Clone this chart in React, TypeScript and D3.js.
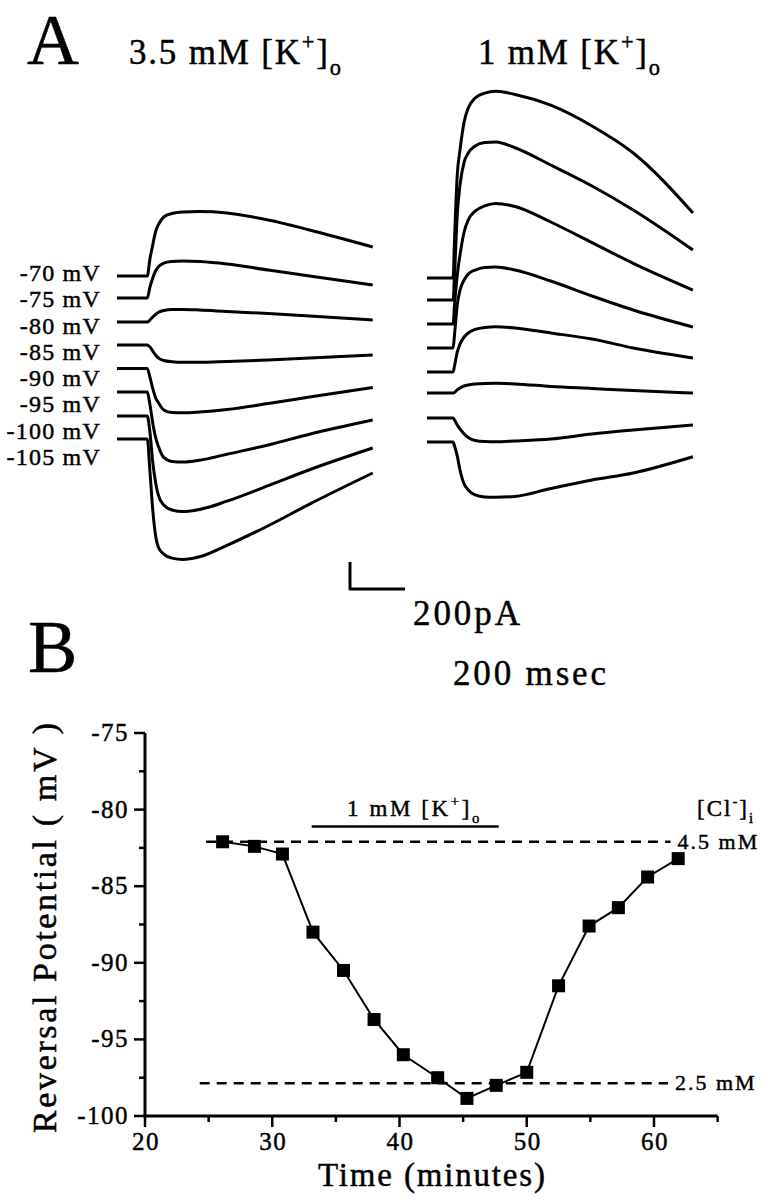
import React from "react";
import * as d3 from "d3";

// ---------- Panel A data (time in ms, current in pA) ----------
const leftTimes = [0, 110, 120, 130, 140, 150, 170, 200, 240, 300, 400, 550, 700, 930];
const leftVoltages = ["-70 mV", "-75 mV", "-80 mV", "-85 mV", "-90 mV", "-95 mV", "-100 mV", "-105 mV"];
const leftM70 = [0, 0, 130, 230, 326, 378, 437, 463, 474, 478, 467, 415, 341, 215];
const leftM75 = [-163, -163, -81, -15, 37, 67, 96, 107, 111, 107, 89, 44, 0, -67];
const leftM80 = [-341, -341, -326, -304, -285, -270, -256, -248, -248, -252, -263, -278, -296, -326];
const leftM85 = [-511, -511, -526, -556, -585, -607, -626, -635, -639, -639, -633, -622, -607, -585];
const leftM90 = [-685, -685, -752, -833, -900, -937, -992, -1011, -1013, -1007, -989, -945, -896, -826];
const leftM95 = [-859, -859, -956, -1089, -1193, -1259, -1344, -1374, -1378, -1365, -1320, -1252, -1172, -1067];
const leftM100 = [-1037, -1037, -1163, -1378, -1526, -1622, -1696, -1733, -1745, -1730, -1668, -1553, -1435, -1274];
const leftM105 = [-1207, -1207, -1452, -1733, -1919, -2007, -2060, -2090, -2100, -2080, -1995, -1850, -1690, -1459];
const leftTraces = [leftM70, leftM75, leftM80, leftM85, leftM90, leftM95, leftM100, leftM105];

const rightTimes = [0, 95, 100, 110, 120, 135, 150, 175, 210, 250, 320, 450, 600, 750, 967];
const rightM70 = [-15, -15, 267, 748, 933, 1141, 1244, 1318, 1355, 1368, 1345, 1265, 1111, 911, 467];
const rightM75 = [-178, -178, 7, 452, 674, 844, 911, 963, 989, 993, 950, 822, 667, 489, 193];
const rightM80 = [-356, -356, -215, 7, 156, 326, 415, 481, 519, 537, 515, 400, 247, 94, -104];
const rightM85 = [-533, -533, -437, -215, -104, -30, 15, 44, 63, 67, 44, -37, -148, -252, -378];
const rightM90 = [-711, -711, -667, -563, -504, -452, -422, -396, -381, -376, -385, -422, -467, -533, -607];
const rightM95 = [-867, -867, -863, -844, -830, -815, -807, -800, -796, -795, -800, -818, -833, -848, -867];
const rightM100 = [-1052, -1052, -1067, -1104, -1133, -1170, -1196, -1218, -1226, -1228, -1222, -1207, -1170, -1141, -1104];
const rightM105 = [-1230, -1230, -1259, -1333, -1437, -1541, -1585, -1622, -1637, -1639, -1633, -1574, -1511, -1459, -1339];
const rightTraces = [rightM70, rightM75, rightM80, rightM85, rightM90, rightM95, rightM100, rightM105];

const scaleBarCurrent = 200; // pA
const scaleBarTime = 200; // ms

// ---------- Panel B data ----------
const timeMin = [26.1, 28.6, 30.8, 33.2, 35.6, 38.0, 40.3, 43.0, 45.3, 47.6, 50.0, 52.5, 54.9, 57.2, 59.5, 61.9];
const reversalMv = [-82.1, -82.4, -82.9, -88.0, -90.5, -93.7, -96.0, -97.5, -98.85, -98.0, -97.15, -91.5, -87.6, -86.4, -84.4, -83.2];
const xMajorTicks = [20, 30, 40, 50, 60];
const xMinorTicks = [25, 35, 45, 55, 65];
const yMajorTicks = [-100, -95, -90, -85, -80, -75];
const yMinorTicks = [-97.5, -92.5, -87.5, -82.5, -77.5];
const clLevels = [-82.1, -97.87];
const clStarts = [24.8, 24.3];
const clEnds = [61.3, 61.1];
const clLabels = ["4.5 mM", "2.5 mM"];
const lowKStart = 33.1;
const lowKEnd = 47.8;
const lowKLevel = -81.1;

const FONT = "'Liberation Serif','Times New Roman',Times,serif";
const INK = { fill: "#000", stroke: "#000", strokeWidth: 0.45 };

function IonLabel({ x, y, fs, ls, pre, ion, sup, sub }: any) {
  const small = fs * 0.64;
  const up = fs * 0.42;
  const down = fs * 0.3;
  return (
    <text x={x} y={y} fontSize={fs} fontFamily={FONT} letterSpacing={ls} {...INK}>
      {pre}
      {ion}
      <tspan dy={-up} fontSize={small}>{sup}</tspan>
      <tspan dy={up}>]</tspan>
      <tspan dy={down} fontSize={small}>{sub}</tspan>
    </text>
  );
}

export default function App() {
  const xLeft = d3.scaleLinear().domain([0, 1000]).range([117, 392]);
  const xRight = d3.scaleLinear().domain([0, 1000]).range([427, 702]);
  const yA = d3.scaleLinear().domain([0, 1000]).range([276, 141]);

  const lineL = d3
    .line<number>()
    .x((_, i) => xLeft(leftTimes[i]))
    .y((d) => yA(d))
    .curve(d3.curveMonotoneX);
  const lineR = d3
    .line<number>()
    .x((_, i) => xRight(rightTimes[i]))
    .y((d) => yA(d))
    .curve(d3.curveMonotoneX);

  const xB = d3.scaleLinear().domain([20, 60]).range([145, 654]);
  const yB = d3.scaleLinear().domain([-100, -75]).range([1116, 733]);
  const pts = timeMin.map((t, i) => [t, reversalMv[i]] as [number, number]);
  const lineB = d3
    .line<[number, number]>()
    .x((d) => xB(d[0]))
    .y((d) => yB(d[1]));

  const labelYs = d3.scaleLinear().domain([0, leftVoltages.length - 1]).range([281, 465]);

  // scale bar
  const sbX = 350;
  const sbY = 589;
  const sbH = yA(0) - yA(scaleBarCurrent);
  const sbW = xLeft(scaleBarTime) - xLeft(0);

  const sq = 13;
  const xAxisEnd = xB(65);

  return (
    <svg
      width={762}
      height={1199}
      style={{ position: "absolute", left: 0, top: 0, background: "#fff" }}
    >
      <rect width={762} height={1199} fill="#fff" />

      {/* Panel A */}
      <text x={27} y={64} fontSize={72} fontFamily={FONT} {...INK}>A</text>
      <IonLabel x={129} y={64} fs={35} ls={1.8} pre="3.5 mM " ion="[K" sup="+" sub="o" />
      <IonLabel x={478} y={64} fs={35} ls={1.8} pre="1 mM " ion="[K" sup="+" sub="o" />

      {leftVoltages.map((v, i) => (
        <text
          key={v}
          x={101}
          y={labelYs(i)}
          fontSize={24}
          fontFamily={FONT}
          textAnchor="end"
          letterSpacing={1.2}
          {...INK}
        >
          {v}
        </text>
      ))}

      <g fill="none" stroke="#000" strokeWidth={3} strokeLinejoin="round">
        {leftTraces.map((tr, i) => (
          <path key={"l" + i} d={lineL(tr) || ""} />
        ))}
        {rightTraces.map((tr, i) => (
          <path key={"r" + i} d={lineR(tr) || ""} />
        ))}
        <path d={`M${sbX},${sbY - sbH}V${sbY}H${sbX + sbW}`} strokeWidth={3} />
      </g>
      <text x={413} y={625} fontSize={35} fontFamily={FONT} textLength={107} lengthAdjust="spacing" {...INK}>
        200pA
      </text>
      <text x={453} y={685} fontSize={35} fontFamily={FONT} textLength={153} lengthAdjust="spacing" {...INK}>
        200 msec
      </text>

      {/* Panel B */}
      <text x={28} y={672} fontSize={74} fontFamily={FONT} {...INK}>B</text>

      <g stroke="#000" fill="none">
        <line x1={xB(20)} y1={yB(-75)} x2={xB(20)} y2={yB(-100) + 1.5} strokeWidth={3} />
        <line x1={xB(20) - 1.5} y1={yB(-100)} x2={xAxisEnd} y2={yB(-100)} strokeWidth={3} />
        {yMajorTicks.map((t) => (
          <line key={"ym" + t} x1={xB(20) - 11} x2={xB(20)} y1={yB(t)} y2={yB(t)} strokeWidth={2.5} />
        ))}
        {yMinorTicks.map((t) => (
          <line key={"yn" + t} x1={xB(20) - 6} x2={xB(20)} y1={yB(t)} y2={yB(t)} strokeWidth={2.5} />
        ))}
        {xMajorTicks.map((t) => (
          <line key={"xm" + t} x1={xB(t)} x2={xB(t)} y1={yB(-100)} y2={yB(-100) + 11} strokeWidth={2.5} />
        ))}
        {xMinorTicks.map((t) => (
          <line key={"xn" + t} x1={xB(t)} x2={xB(t)} y1={yB(-100)} y2={yB(-100) + 6} strokeWidth={2.5} />
        ))}
      </g>
      {yMajorTicks.map((t) => (
        <text
          key={"yl" + t}
          x={129}
          y={yB(t) + 8}
          fontSize={25}
          fontFamily={FONT}
          textAnchor="end"
          letterSpacing={1.5}
          {...INK}
        >
          {String(t)}
        </text>
      ))}
      {xMajorTicks.map((t) => (
        <text
          key={"xl" + t}
          x={xB(t) + 1}
          y={1150}
          fontSize={25}
          fontFamily={FONT}
          textAnchor="middle"
          letterSpacing={1.5}
          {...INK}
        >
          {String(t)}
        </text>
      ))}
      <text x={318} y={1186} fontSize={33} fontFamily={FONT} textLength={227} lengthAdjust="spacing" {...INK}>
        Time (minutes)
      </text>
      <text
        transform="translate(56,928) rotate(-90)"
        fontSize={34}
        fontFamily={FONT}
        textAnchor="middle"
        textLength={410}
        lengthAdjust="spacing"
        {...INK}
      >
        Reversal Potential ( mV )
      </text>

      {/* reference Cl levels */}
      <g stroke="#000" strokeWidth={2.5} strokeDasharray="10,7">
        {clLevels.map((lv, i) => (
          <line key={"cl" + i} x1={xB(clStarts[i])} x2={xB(clEnds[i])} y1={yB(lv)} y2={yB(lv)} />
        ))}
      </g>
      {clLabels.map((lab, i) => (
        <text
          key={lab}
          x={xB(clEnds[i]) + 7}
          y={yB(clLevels[i]) + 7}
          fontSize={22}
          fontFamily={FONT}
          letterSpacing={2}
          {...INK}
        >
          {lab}
        </text>
      ))}
      <IonLabel x={697} y={816} fs={23} ls={2} pre="" ion="[Cl" sup="-" sub="i" />

      {/* 1 mM K bar */}
      <line x1={xB(lowKStart)} x2={xB(lowKEnd)} y1={yB(lowKLevel)} y2={yB(lowKLevel)} stroke="#000" strokeWidth={2.5} />
      <IonLabel x={347} y={816} fs={23} ls={2.6} pre="1 mM " ion="[K" sup="+" sub="o" />

      {/* data */}
      <path d={lineB(pts) || ""} fill="none" stroke="#000" strokeWidth={2} />
      {pts.map((p, i) => (
        <rect key={"p" + i} x={xB(p[0]) - sq / 2} y={yB(p[1]) - sq / 2} width={sq} height={sq} fill="#000" />
      ))}
    </svg>
  );
}
